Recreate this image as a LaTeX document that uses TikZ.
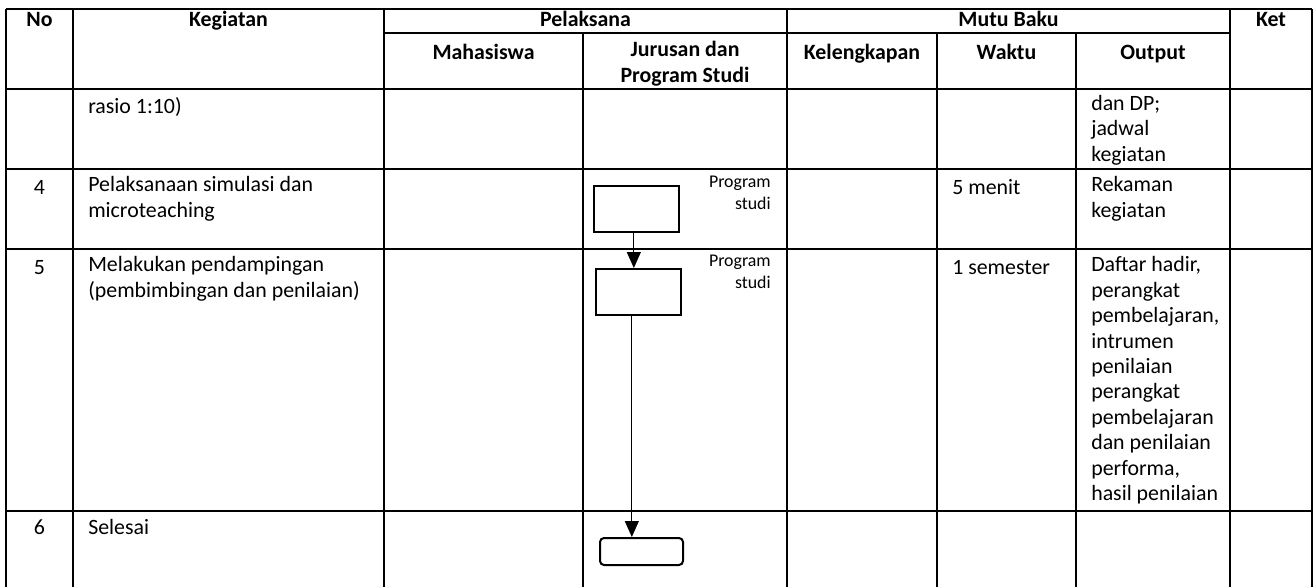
\documentclass[tikz,border=0pt]{standalone}
\usepackage{fontspec,tikz}
\usetikzlibrary{arrows.meta}
\setmainfont{Carlito}

\begin{document}
\begin{tikzpicture}[x=0.75pt,y=-0.75pt,
  grid/.style={line width=1.5pt},
  body/.style={font=\fontsize{16.4pt}{19.1pt}\selectfont,inner sep=0pt,align=left,execute at begin node=\strut},
  head/.style={font=\fontsize{16.4pt}{19.5pt}\selectfont\bfseries,inner sep=0pt,align=center,execute at begin node=\strut},
  unit/.style={font=\fontsize{13.4pt}{16.5pt}\selectfont,inner sep=0pt,align=right,execute at begin node=\strut},
  procbox/.style={draw,line width=1.5pt,minimum width=63.75pt,minimum height=34.5pt},
  endbox/.style={draw,line width=1.5pt,rounded corners=3pt,minimum width=62.25pt,minimum height=20.25pt},
  flow/.style={line width=0.75pt,-{Triangle[length=12pt,width=10.5pt]}}]
\useasboundingbox (0,0) rectangle (1314,587);
% table lines
\draw[grid] (6,9) -- (1312,9);
\draw[grid] (384,33) -- (1230,33);
\draw[grid] (6,89) -- (1312,89);
\draw[grid] (6,169) -- (1312,169);
\draw[grid] (6,249) -- (1312,249);
\draw[grid] (6,511) -- (1312,511);
\draw[grid] (6,9) -- (6,587);
\draw[grid] (73,9) -- (73,587);
\draw[grid] (384,9) -- (384,587);
\draw[grid] (583,33) -- (583,587);
\draw[grid] (787,9) -- (787,587);
\draw[grid] (937,33) -- (937,587);
\draw[grid] (1076,33) -- (1076,587);
\draw[grid] (1230,9) -- (1230,587);
\draw[grid] (1312,9) -- (1312,587);
% header
\node[head,anchor=base] (hno) at (39.5,26) {No};
\node[head,anchor=base] (hkeg) at (228.5,26) {Kegiatan};
\node[head,anchor=base] (hpel) at (585.5,26) {Pelaksana};
\node[head,anchor=base] (hmutu) at (1008.5,26) {Mutu Baku};
\node[head,anchor=base] (hket) at (1271,26) {Ket};
\node[head,anchor=base] (hmhs) at (483.5,59) {Mahasiswa};
\node[head,anchor=north] (hjur) at (685,40.8) {Jurusan dan\\Program Studi};
\node[head,anchor=base] (hkel) at (862,59) {Kelengkapan};
\node[head,anchor=base] (hwkt) at (1006.5,59) {Waktu};
\node[head,anchor=base] (hout) at (1153,59) {Output};
% row 3 (lanjutan)
\node[body,anchor=north west] (k3) at (88,95) {rasio 1:10)};
\node[body,anchor=north west] (o3) at (1091,95) {dan DP;\\jadwal\\kegiatan};
% row 4
\node[body,anchor=base] (n4) at (39.5,194) {4};
\node[body,anchor=north west] (k4) at (88,176.2) {Pelaksanaan simulasi dan\\microteaching};
\node[unit,anchor=north east] (u4) at (771,175.5) {Program\\studi};
\node[body,anchor=north west] (w4) at (952,176.2) {5 menit};
\node[body,anchor=north west] (o4) at (1091,176.2) {Rekaman\\kegiatan};
% row 5
\node[body,anchor=base] (n5) at (39.5,274) {5};
\node[body,anchor=north west] (k5) at (88,256.2) {Melakukan pendampingan\\(pembimbingan dan penilaian)};
\node[unit,anchor=north east] (u5) at (771,255) {Program\\studi};
\node[body,anchor=north west] (w5) at (952,256.2) {1 semester};
\node[body,anchor=north west] (o5) at (1091,256.2) {Daftar hadir,\\perangkat\\pembelajaran,\\intrumen\\penilaian\\perangkat\\pembelajaran\\dan penilaian\\performa,\\hasil penilaian};
% row 6
\node[body,anchor=base] (n6) at (39.5,534) {6};
\node[body,anchor=north west] (k6) at (88,516.2) {Selesai};
% flow
\node[procbox] (b1) at (636.5,209) {};
\node[procbox] (b2) at (638.5,292) {};
\node[endbox] (end) at (641.5,551.5) {};
\draw[flow] ([xshift=-2pt]b1.south) -- ([xshift=-2pt]b1.south |- b2.north);
\draw[flow] ([xshift=-5pt]b2.south) -- ([xshift=-5pt]b2.south |- end.north);
\end{tikzpicture}
\end{document}
